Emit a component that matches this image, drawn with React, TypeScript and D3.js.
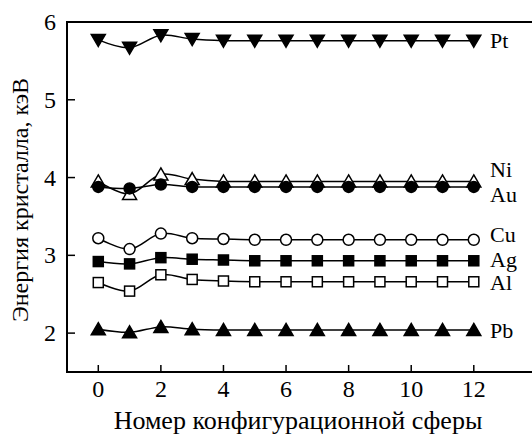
import { useEffect, useRef } from "react";
import * as d3 from "d3";

const spheres = [0, 1, 2, 3, 4, 5, 6, 7, 8, 9, 10, 11, 12];
const xTicks = [0, 2, 4, 6, 8, 10, 12];
const yTicks = [2, 3, 4, 5, 6];

const pt = [5.77, 5.67, 5.83, 5.78, 5.76, 5.76, 5.76, 5.76, 5.76, 5.76, 5.76, 5.76, 5.76];
const ni = [3.95, 3.79, 4.04, 3.98, 3.95, 3.95, 3.95, 3.95, 3.95, 3.95, 3.95, 3.95, 3.95];
const au = [3.88, 3.86, 3.91, 3.88, 3.88, 3.88, 3.88, 3.88, 3.88, 3.88, 3.88, 3.88, 3.88];
const cu = [3.22, 3.08, 3.28, 3.22, 3.21, 3.2, 3.2, 3.2, 3.2, 3.2, 3.2, 3.2, 3.2];
const ag = [2.92, 2.89, 2.97, 2.95, 2.94, 2.93, 2.93, 2.93, 2.93, 2.93, 2.93, 2.93, 2.93];
const al = [2.65, 2.54, 2.75, 2.69, 2.67, 2.66, 2.66, 2.66, 2.66, 2.66, 2.66, 2.66, 2.66];
const pb = [2.05, 2.01, 2.08, 2.05, 2.04, 2.04, 2.04, 2.04, 2.04, 2.04, 2.04, 2.04, 2.04];

const series = [
  { name: "Pt", values: pt, marker: "triDown", fill: true, labelY: 5.75 },
  { name: "Ni", values: ni, marker: "triUp", fill: false, labelY: 4.1 },
  { name: "Au", values: au, marker: "circle", fill: true, labelY: 3.78 },
  { name: "Cu", values: cu, marker: "circle", fill: false, labelY: 3.26 },
  { name: "Ag", values: ag, marker: "square", fill: true, labelY: 2.94 },
  { name: "Al", values: al, marker: "square", fill: false, labelY: 2.64 },
  { name: "Pb", values: pb, marker: "triUp", fill: true, labelY: 2.03 },
];

const App = () => {
  const ref = useRef(null);
  const width = 532;
  const height = 438;

  useEffect(() => {
    const svg = d3.select(ref.current);
    svg.selectAll("*").remove();
    const font = "'Liberation Serif', serif";

    const x = d3.scaleLinear().domain([-1, 13.86]).range([67, 532]);
    const y = d3.scaleLinear().domain([1.5, 6]).range([372, 22]);

    // frame: left, top, bottom
    svg.append("path")
      .attr("d", `M532,${y(6)}H${x(-1)}V${y(1.5)}H532`)
      .attr("fill", "none").attr("stroke", "#000").attr("stroke-width", 2);

    xTicks.forEach((t) => {
      svg.append("line").attr("x1", x(t)).attr("x2", x(t))
        .attr("y1", y(1.5)).attr("y2", y(1.5) - 7)
        .attr("stroke", "#000").attr("stroke-width", 1.5);
      svg.append("text").attr("x", x(t)).attr("y", 397)
        .attr("text-anchor", "middle").style("font-family", font).attr("font-size", 24)
        .text(t);
    });
    yTicks.forEach((t) => {
      svg.append("line").attr("x1", x(-1)).attr("x2", x(-1) + 8)
        .attr("y1", y(t)).attr("y2", y(t))
        .attr("stroke", "#000").attr("stroke-width", 1.5);
      svg.append("text").attr("x", 56).attr("y", y(t) + 8)
        .attr("text-anchor", "end").style("font-family", font).attr("font-size", 24)
        .text(t);
    });

    svg.append("text").attr("x", 298).attr("y", 429)
      .attr("text-anchor", "middle").style("font-family", font).attr("font-size", 26)
      .text("Номер конфигурационной сферы");
    svg.append("text")
      .attr("transform", `translate(28,200) rotate(-90)`)
      .attr("text-anchor", "middle").style("font-family", font).attr("font-size", 24)
      .attr("fill", "#000")
      .text("Энергия кристалла, кэВ");

    const line = d3.line<number>()
      .x((_, i) => x(spheres[i]))
      .y((d) => y(d))
      .curve(d3.curveCatmullRom);

    series.forEach((s) => {
      svg.append("path").attr("d", line(s.values))
        .attr("fill", "none").attr("stroke", "#000").attr("stroke-width", 1.5);
    });

    series.forEach((s) => {
      const g = svg.append("g");
      s.values.forEach((v, i) => {
        const cx = x(spheres[i]);
        const cy = y(v);
        let m;
        if (s.marker === "circle") {
          m = g.append("circle").attr("cx", cx).attr("cy", cy).attr("r", 5.5);
        } else if (s.marker === "square") {
          m = g.append("rect").attr("x", cx - 5).attr("y", cy - 5).attr("width", 10).attr("height", 10);
        } else {
          const h = 6.5;
          const w = 7;
          const d = s.marker === "triUp"
            ? `M${cx},${cy - h}L${cx + w},${cy + h - 1}L${cx - w},${cy + h - 1}Z`
            : `M${cx},${cy + h}L${cx + w},${cy - h + 1}L${cx - w},${cy - h + 1}Z`;
          m = g.append("path").attr("d", d);
        }
        m.attr("fill", s.fill ? "#000" : "#fff").attr("stroke", "#000").attr("stroke-width", 1.5);
      });
      svg.append("text").attr("x", 490).attr("y", y(s.labelY) + 7)
        .style("font-family", font).attr("font-size", 22).text(s.name);
    });
  }, []);

  return <svg ref={ref} width={width} height={height} style={{ position: "absolute", left: 0, top: 0 }}></svg>;
};

export default App;
